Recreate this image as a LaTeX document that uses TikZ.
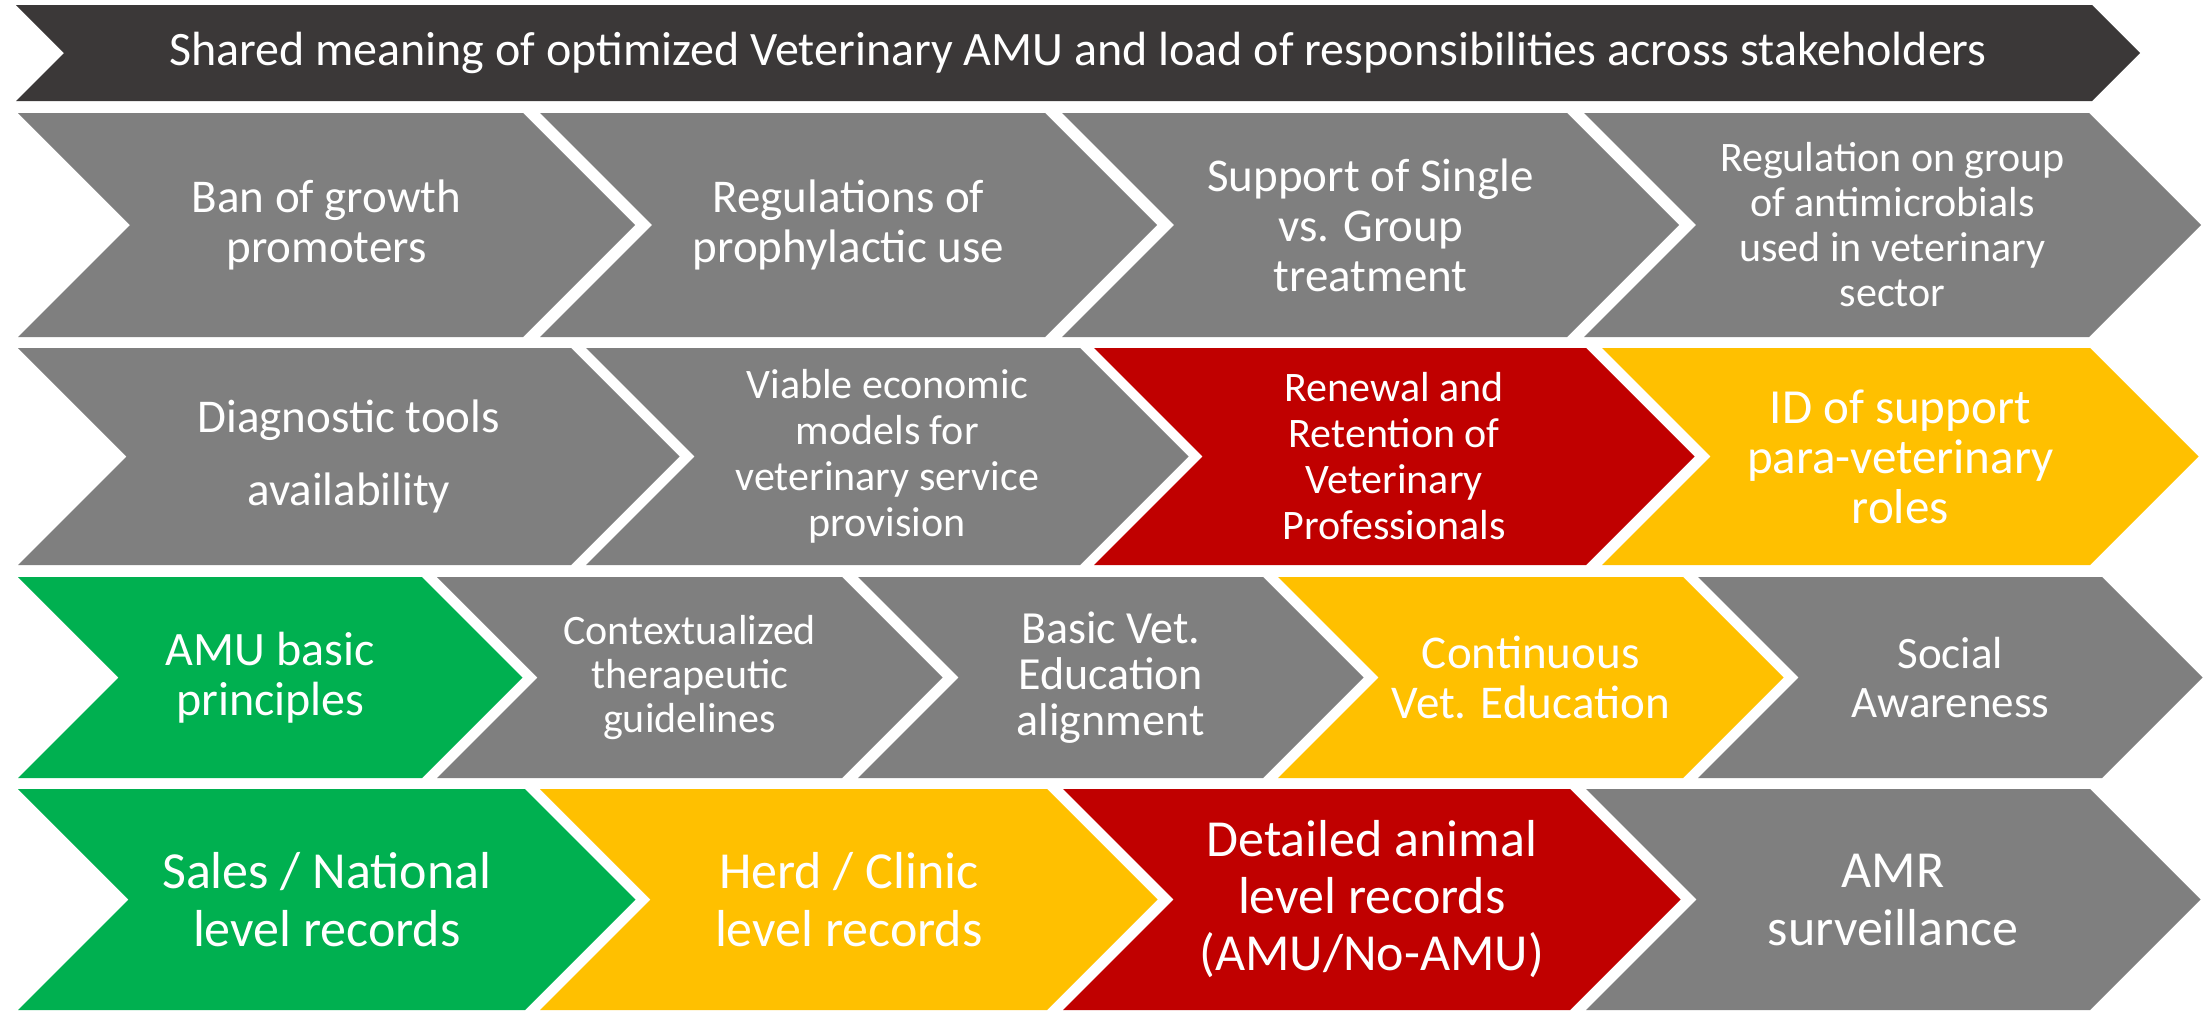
\documentclass[tikz,border=0pt]{standalone}
\usepackage{fontspec}
\setmainfont{Carlito}
\definecolor{cdark}{HTML}{3B3838}
\definecolor{cgray}{HTML}{7F7F7F}
\definecolor{cred}{HTML}{C00000}
\definecolor{cyel}{HTML}{FFC000}
\definecolor{cgreen}{HTML}{00B050}
\tikzset{txt/.style={text=white, align=center, inner sep=0pt}}
% #1 name, #2 L, #3 R, #4 top, #5 bottom, #6 colour, #7 font size, #8 line skip, #9 text
\newcommand\chv[9]{%
  \pgfmathsetmacro\dd{(#5-#4)/2}%
  \pgfmathsetmacro\mm{(#4+#5)/2}%
  \fill[#6] (#2,#4) -- (#3,#4) -- ({#3+\dd},\mm) -- (#3,#5) -- (#2,#5) -- ({#2+\dd},\mm) -- cycle;
  \node[txt, font=\fontsize{#7}{#8}\selectfont] (#1) at ({(#2+#3+\dd)/2},\mm) {#9};
}
\begin{document}
\begin{tikzpicture}[x=1pt,y=-1pt]
\useasboundingbox (0,0) rectangle (2209,1012);
% banner
\chv{banner}{16}{2092}{5}{101}{cdark}{48}{52}{Shared meaning of optimized Veterinary AMU and load of responsibilities across stakeholders}
% row 1
\chv{a1}{18}{523}{113}{337}{cgray}{47}{50}{Ban of growth\\promoters}
\chv{a2}{540}{1045}{113}{337}{cgray}{47}{50}{Regulations of\\prophylactic use}
\chv{a3}{1062}{1567}{113}{337}{cgray}{47}{50}{Support of Single\\vs. Group\\treatment}
\chv{a4}{1584}{2089}{113}{337}{cgray}{42}{45}{Regulation on group\\of antimicrobials\\used in veterinary\\sector}
% row 2
\chv{b1}{18}{571}{348}{565}{cgray}{47}{73}{Diagnostic tools\\availability}
\chv{b2}{586}{1080}{348}{565}{cgray}{42}{46}{Viable economic\\models for\\veterinary service\\provision}
\chv{b3}{1094}{1586}{348}{565}{cred}{42}{46}{Renewal and\\Retention of\\Veterinary\\Professionals}
\chv{b4}{1602}{2090}{348}{565}{cyel}{49}{50}{ID of support\\para-veterinary\\roles}
% row 3
\chv{c1}{18}{422}{577}{778}{cgreen}{48}{50}{AMU basic\\principles}
\chv{c2}{437}{842}{577}{778}{cgray}{42}{44}{Contextualized\\therapeutic\\guidelines}
\chv{c3}{858}{1263}{577}{778}{cgray}{46}{46}{Basic Vet.\\Education\\alignment}
\chv{c4}{1278}{1683}{577}{778}{cyel}{47}{50}{Continuous\\Vet. Education}
\chv{c5}{1698}{2102}{577}{778}{cgray}{45}{49}{Social\\Awareness}
% row 4
\chv{d1}{18}{525}{789}{1010}{cgreen}{52}{58}{Sales / National\\level records}
\chv{d2}{540}{1047}{789}{1010}{cyel}{52}{58}{Herd / Clinic\\level records}
\chv{d3}{1063}{1570}{789}{1010}{cred}{52}{57}{Detailed animal\\level records\\(AMU/No-AMU)}
\chv{d4}{1586}{2090}{789}{1010}{cgray}{52}{58}{AMR\\surveillance}
\end{tikzpicture}
\end{document}
